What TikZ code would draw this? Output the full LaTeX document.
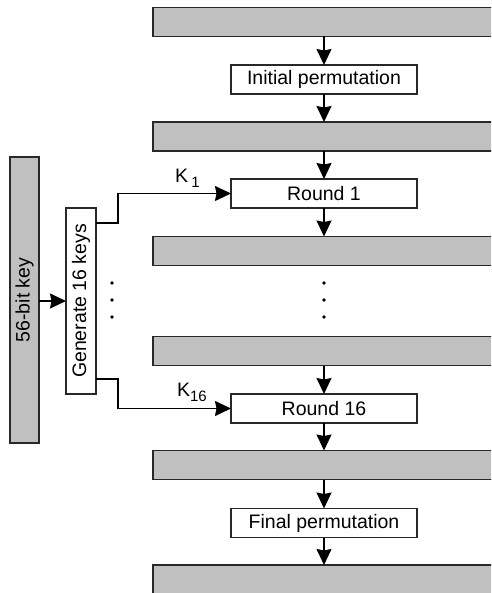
\documentclass[tikz,border=0pt]{standalone}
\usepackage{fontspec}
\setmainfont{Liberation Sans}
\usetikzlibrary{arrows.meta}
\definecolor{barfill}{RGB}{192,192,192}
\definecolor{edge}{RGB}{40,40,40}
\tikzset{
  base/.style={draw=edge, line width=1.4pt, inner sep=0pt, outer sep=0pt,
    font=\fontsize{19.5}{22}\selectfont},
  databar/.style={base, fill=barfill, minimum width=342pt, minimum height=29pt},
  stagebox/.style={base, fill=white, minimum width=186pt, minimum height=29pt},
  keybar/.style={base, fill=barfill, minimum width=29pt, minimum height=286pt},
  genbox/.style={base, fill=white, minimum width=30pt, minimum height=186pt},
  arr/.style={draw=black, line width=1.4pt,
    -{Stealth[length=16pt,width=15pt,inset=1.5pt]}},
  klabel/.style={font=\fontsize{19.5}{22}\selectfont, inner sep=0pt},
}
\newcommand{\subk}[1]{\raisebox{-5pt}{\fontsize{15}{15}\selectfont #1}}
\begin{document}
\begin{tikzpicture}[x=1pt,y=-1pt]
  \fill[white] (0,0) rectangle (491,593);
  \clip (0,0) rectangle (491,593);

  % data blocks between the stages
  \node[databar] (b1) at (324,22) {};
  \node[databar] (b2) at (324,136.5) {};
  \node[databar] (b3) at (324,251) {};
  \node[databar] (b4) at (324,351) {};
  \node[databar] (b5) at (324,465) {};
  \node[databar] (b6) at (324,579.5) {};

  % stages
  \node[stagebox] (ip)  at (324,79.5)  {Initial permutation};
  \node[stagebox] (r1)  at (324,193.5) {Round 1};
  \node[stagebox] (r16) at (324,408.5) {Round 16};
  \node[stagebox] (fp)  at (324,523)   {Final permutation};

  % key schedule
  \node[keybar] (key) at (24.5,300) {\rotatebox{90}{56-bit key}};
  \node[genbox] (gen) at (81,301) {\rotatebox{90}{Generate 16 keys}};

  % data path
  \draw[arr] (b1.south) -- (ip.north);
  \draw[arr] (ip.south) -- (b2.north);
  \draw[arr] (b2.south) -- (r1.north);
  \draw[arr] (r1.south) -- (b3.north);
  \draw[arr] (b4.south) -- (r16.north);
  \draw[arr] (r16.south) -- (b5.north);
  \draw[arr] (b5.south) -- (fp.north);
  \draw[arr] (fp.south) -- (b6.north);

  % key path
  \draw[arr] (key.east |- gen.west) -- (gen.west);
  \draw[arr] ([yshift=-15pt]gen.north east) -- ++(22,0) |- (r1.west);
  \draw[arr] ([yshift=15pt]gen.south east) -- ++(22,0) |- (r16.west);
  \node[klabel, anchor=base east] (k1)
    at ([xshift=-31pt,yshift=11pt]r1.west) {K\,\subk{1}};
  \node[klabel, anchor=base east] (k16)
    at ([xshift=-24pt,yshift=12pt]r16.west) {K\subk{16}};

  % elided rounds
  \foreach \y in {283,300,317} {
    \fill (324,\y) circle (1.9);
    \fill (112,\y) circle (1.9);
  }
\end{tikzpicture}
\end{document}
